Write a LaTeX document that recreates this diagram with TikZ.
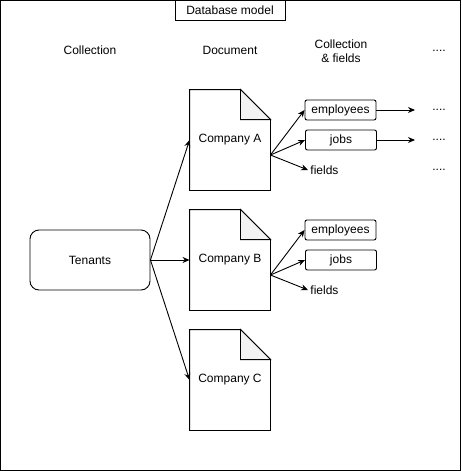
\documentclass[tikz,border=0pt]{standalone}
\usepackage{fontspec}
\setmainfont{Liberation Sans}
\usetikzlibrary{arrows.meta}

\tikzset{
  docbox/.style={minimum width=80pt, minimum height=100pt, inner sep=0pt},
  fieldbox/.style={draw, rounded corners=2pt, minimum width=71pt, minimum height=20pt, inner sep=0pt},
  link/.style={-{Stealth[length=7pt,width=6pt]}, line width=0.9pt},
}

\begin{document}
\begin{tikzpicture}[x=1pt, y=-1pt, line width=0.9pt, font=\fontsize{12pt}{14pt}\selectfont]
  \useasboundingbox (0,0) rectangle (461,471);
  \draw (0.5,0.5) rectangle (460,470);

  \node[draw, minimum width=110pt, minimum height=20pt, inner sep=0pt] (title) at (230,10) {Database model};

  \node (hcoll) at (90,50) {Collection};
  \node (hdoc) at (230,50) {Document};
  \node[align=center] (hfields) at (341,51) {Collection\\ \& fields};
  \node (hmore) at (439,51) {....};

  \node[draw, rounded corners=9pt, minimum width=120pt, minimum height=60pt] (tenants) at (90,260) {Tenants};

  \node[docbox] (compA) at (230,140) {Company A};
  \node[docbox] (compB) at (230,260) {Company B};
  \node[docbox] (compC) at (230,380) {Company C};

  \foreach \d in {compA, compB, compC} {
    \draw (\d.south west) -- (\d.north west) -- ([xshift=-30pt]\d.north east)
      -- ([yshift=-30pt]\d.north east) -- (\d.south east) -- cycle;
    \filldraw[fill=gray!10] ([xshift=-30pt]\d.north east) -- ([xshift=-30pt, yshift=-30pt]\d.north east)
      -- ([yshift=-30pt]\d.north east) -- cycle;
  }

  \node[fieldbox] (empA) at (340.5,110) {employees};
  \node[fieldbox] (jobsA) at (341,140) {jobs};
  \node[inner sep=2pt, anchor=west] (fieldsA) at (308,170) {fields};
  \node[fieldbox] (empB) at (340.5,230) {employees};
  \node[fieldbox] (jobsB) at (341,260) {jobs};
  \node[inner sep=2pt, anchor=west] (fieldsB) at (308,290) {fields};

  \node (moreA) at (439,110) {....};
  \node (moreB) at (439,140) {....};
  \node (moreC) at (439,170) {....};
  \coordinate (endA) at (415,110);
  \coordinate (endB) at (415,140);

  \draw[link] (tenants.east) -- (compA.west);
  \draw[link] (tenants.east) -- (compB.west);
  \draw[link] (tenants.east) -- (compC.west);

  \draw[link] ([yshift=-15pt]compA.east) -- (empA.west);
  \draw[link] ([yshift=-15pt]compA.east) -- (jobsA.west);
  \draw[link] ([yshift=-15pt]compA.east) -- (fieldsA.west);
  \draw[link] ([yshift=-15pt]compB.east) -- (empB.west);
  \draw[link] ([yshift=-15pt]compB.east) -- (jobsB.west);
  \draw[link] ([yshift=-15pt]compB.east) -- (fieldsB.west);

  \draw[link] (empA.east) -- (endA);
  \draw[link] (jobsA.east) -- (endB);
\end{tikzpicture}
\end{document}
